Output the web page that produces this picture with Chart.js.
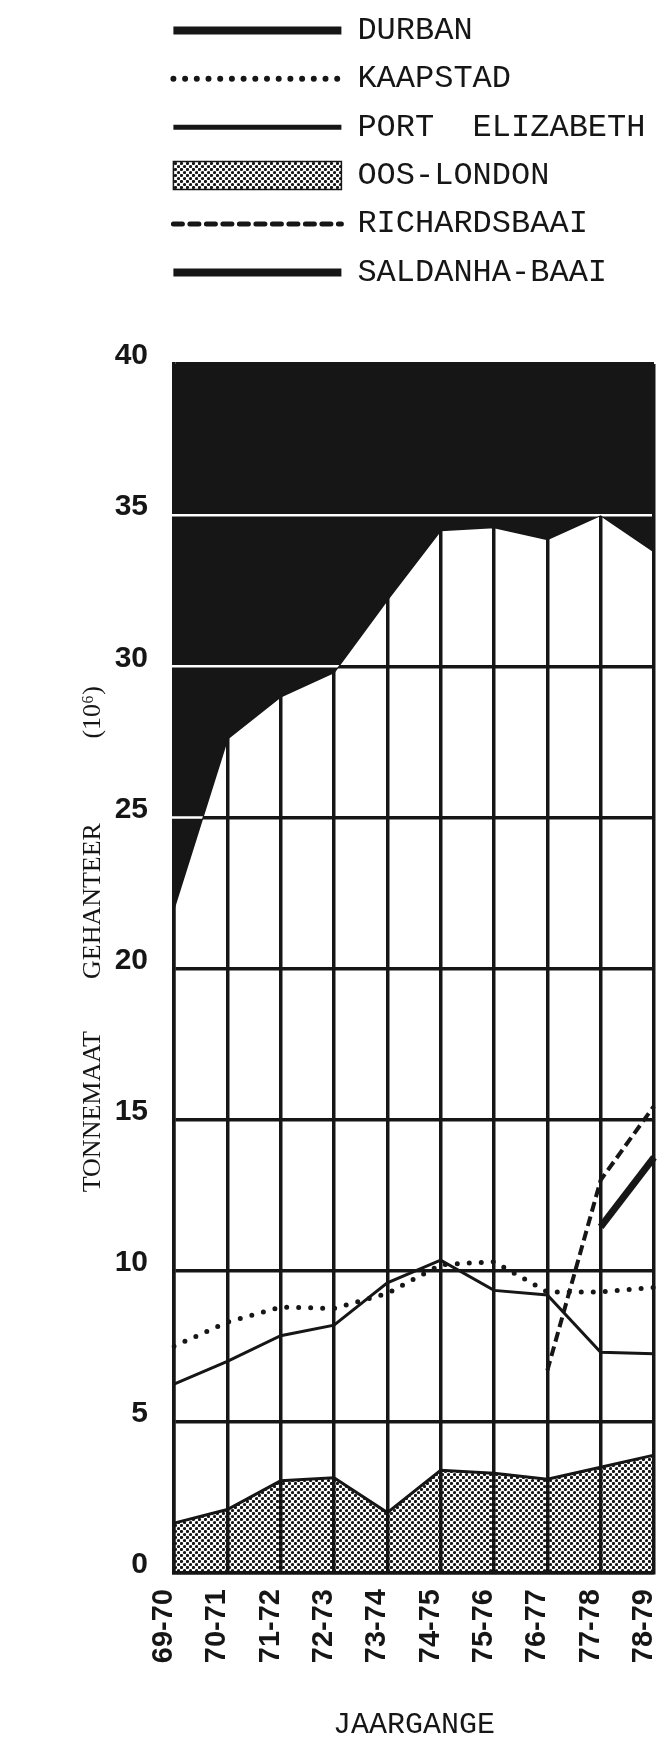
<!DOCTYPE html>
<html>
<head>
<meta charset="utf-8">
<script src="https://cdn.jsdelivr.net/npm/chart.js@4.4.1/dist/chart.umd.min.js"></script>
<style>
html,body{margin:0;padding:0;background:#fff;}
canvas{display:block;}
</style>
</head>
<body>
<canvas id="c" width="657" height="1740"></canvas>
<script>
// ---- data (million tonnes handled) ----
const categories = ['69-70','70-71','71-72','72-73','73-74','74-75','75-76','76-77','77-78','78-79'];
const durban        = [22.0, 27.6, 29.0, 29.8, 32.2, 34.5, 34.6, 34.2, 35.0, 33.8];
const kaapstad      = [7.5, 8.3, 8.8, 8.75, 9.25, 10.2, 10.3, 9.3, 9.3, 9.45];
const portElizabeth = [6.25, 7.0, 7.85, 8.2, 9.6, 10.35, 9.35, 9.2, 7.3, 7.25];
const oosLondon     = [1.65, 2.1, 3.05, 3.15, 2.0, 3.4, 3.3, 3.1, 3.5, 3.9];
const richardsbaai  = [null, null, null, null, null, null, null, 6.7, 13.0, 15.45];
const saldanhaBaai  = [null, null, null, null, null, null, null, null, 11.45, 13.75];
const yTicks = [0, 5, 10, 15, 20, 25, 30, 35, 40];
const seriesNames = ['DURBAN', 'KAAPSTAD', 'PORT  ELIZABETH', 'OOS-LONDON', 'RICHARDSBAAI', 'SALDANHA-BAAI'];
const yTitle = '         TONNEMAAT        GEHANTEER             (10\u2076)';
const xTitle = 'JAARGANGE';

const INK = '#161616';
const canvas = document.getElementById('c');
const ctx = canvas.getContext('2d');

function makePattern() {
  const c = document.createElement('canvas');
  c.width = 6; c.height = 6;
  const g = c.getContext('2d');
  g.fillStyle = INK;
  [[1.5, 1.5], [4.5, 4.5]].forEach(([x, y]) => {
    g.beginPath(); g.arc(x, y, 1.6, 0, Math.PI * 2); g.fill();
  });
  return ctx.createPattern(c, 'repeat');
}
const pattern = makePattern();

const whiteGrid = {
  id: 'whiteGrid',
  beforeDraw(chart) {
    const c = chart.ctx;
    c.save(); c.fillStyle = '#fff'; c.fillRect(0, 0, chart.width, chart.height); c.restore();
  },
  afterDatasetsDraw(chart) {
    const meta = chart.getDatasetMeta(0);
    const a = chart.chartArea;
    const y = chart.scales.y;
    const c = chart.ctx;
    c.save();
    c.beginPath();
    c.moveTo(a.left - 3, a.top);
    c.lineTo(a.left - 3, meta.data[0].y);
    meta.data.forEach(p => c.lineTo(p.x, p.y));
    c.lineTo(a.right, a.top);
    c.closePath();
    c.clip();
    c.strokeStyle = '#fff';
    c.lineWidth = 2.5;
    y.ticks.forEach(t => {
      if (t.value > 0 && t.value < 40) {
        const py = y.getPixelForValue(t.value);
        c.beginPath(); c.moveTo(a.left - 3, py); c.lineTo(a.right - 2, py); c.stroke();
      }
    });
    c.restore();
  }
};

const shiftLegend = {
  id: 'shiftLegend',
  afterLayout(chart) {
    const L = chart.legend;
    if (!L) return;
    L.left += 157;
    L.top -= 65.6;
    L.bottom -= 65.6;
  }
};

new Chart(ctx, {
  type: 'line',
  data: {
    labels: categories,
    datasets: [
      { label: seriesNames[0], data: durban, borderColor: INK, backgroundColor: INK, borderWidth: 2,
        fill: 'end', legendWidth: 8 },
      { label: seriesNames[1], data: kaapstad, borderColor: INK, borderWidth: 5, borderDash: [0, 12],
        borderCapStyle: 'round', fill: false, legendWidth: 6, legendDash: [0, 11.7], legendCap: 'round' },
      { label: seriesNames[2], data: portElizabeth, borderColor: INK, borderWidth: 3, fill: false, legendWidth: 5 },
      { label: seriesNames[3], data: oosLondon, borderColor: INK, borderWidth: 3, backgroundColor: pattern,
        fill: 'origin', legendWidth: 1.5, legendStyle: 'rect', legendFill: pattern },
      { label: seriesNames[4], data: richardsbaai, borderColor: INK, borderWidth: 4, borderDash: [10, 5],
        fill: false, legendWidth: 5, legendDash: [9, 7.5], legendCap: 'round' },
      { label: seriesNames[5], data: saldanhaBaai, borderColor: INK, borderWidth: 7, fill: false, legendWidth: 8 }
    ]
  },
  options: {
    responsive: false,
    devicePixelRatio: 1,
    animation: false,
    elements: { point: { radius: 0, hoverRadius: 0 }, line: { tension: 0 } },
    layout: { padding: { top: 63.6, left: 0, right: 3, bottom: 0 } },
    plugins: {
      tooltip: { enabled: false },
      legend: {
        position: 'top',
        align: 'start',
        labels: {
          usePointStyle: true,
          pointStyleWidth: 168,
          boxHeight: 28,
          padding: 16.4,
          color: INK,
          font: { family: "'Liberation Mono', 'Courier New', monospace", size: 32 },
          generateLabels(chart) {
            return chart.data.datasets.map((ds, i) => ({
              text: ds.label,
              datasetIndex: i,
              hidden: false,
              fontColor: INK,
              fillStyle: ds.legendFill || ds.borderColor,
              strokeStyle: ds.borderColor,
              lineWidth: ds.legendWidth,
              lineDash: ds.legendDash || [],
              lineCap: ds.legendCap || 'butt',
              pointStyle: ds.legendStyle || 'line'
            }));
          }
        }
      }
    },
    scales: {
      x: {
        type: 'category',
        offset: false,
        grid: { color: INK, lineWidth: 3.5, drawTicks: false },
        border: { color: INK, width: 3.5 },
        ticks: {
          autoSkip: false, minRotation: 90, maxRotation: 90, padding: 16, labelOffset: -10,
          color: INK, font: { family: "'Liberation Sans', Arial, sans-serif", size: 29, weight: 'bold' }
        },
        title: {
          display: true, text: xTitle, color: INK,
          font: { family: "'Liberation Mono', 'Courier New', monospace", size: 30, lineHeight: 1 },
          padding: { top: 0, bottom: 0 }
        },
        afterFit(s) { s.height = 167; s.paddingLeft = 0; s.paddingRight = 0; }
      },
      y: {
        min: 0, max: 40,
        grid: { color: INK, lineWidth: 3.5, drawTicks: false },
        border: { color: INK, width: 3.5 },
        afterBuildTicks(s) { s.ticks = yTicks.map(v => ({ value: v })); },
        ticks: {
          padding: 26, labelOffset: -8, color: INK,
          font: { family: "'Liberation Sans', Arial, sans-serif", size: 30, weight: 'bold' }
        },
        title: {
          display: true, text: yTitle, color: INK,
          font: { family: "'Liberation Serif', 'Times New Roman', serif", size: 26 },
          padding: { top: 78, bottom: 0 }
        },
        afterFit(s) { s.width = 174; s.paddingTop = 0; s.paddingBottom = 0; }
      }
    }
  },
  plugins: [whiteGrid, shiftLegend]
});
</script>
</body>
</html>
